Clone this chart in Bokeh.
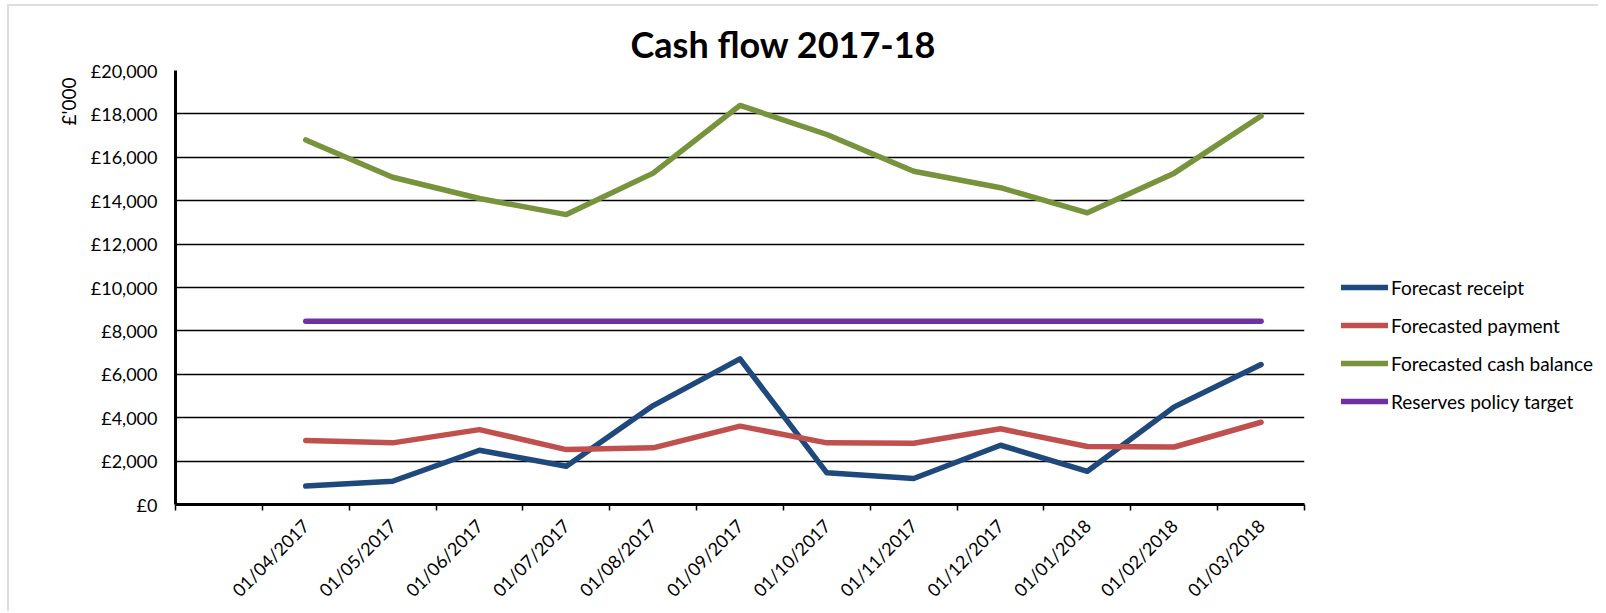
import math
from bokeh.plotting import figure
from bokeh.layouts import row
from bokeh.models import Range1d, FixedTicker, Legend, LegendItem, Title
from bokeh.embed import file_html
from bokeh.resources import INLINE

# ---- data ----
categories = ["", "01/04/2017", "01/05/2017", "01/06/2017", "01/07/2017", "01/08/2017",
              "01/09/2017", "01/10/2017", "01/11/2017", "01/12/2017", "01/01/2018",
              "01/02/2018", "01/03/2018"]
months = categories[1:]
forecast_receipt = [850, 1070, 2500, 1760, 4560, 6710, 1460, 1200, 2730, 1530, 4500, 6450]
forecasted_payment = [2950, 2840, 3450, 2530, 2610, 3610, 2840, 2820, 3490, 2670, 2650, 3790]
forecasted_balance = [16800, 15080, 14100, 13360, 15270, 18390, 17050, 15360, 14600, 13440, 15270, 17900]
reserves_target = [8450, 8450, 8450, 8450, 8450, 8450, 8450, 8450, 8450, 8450, 8450, 8450]
series_names = ["Forecast receipt", "Forecasted payment", "Forecasted cash balance", "Reserves policy target"]
y_ticks = [0, 2000, 4000, 6000, 8000, 10000, 12000, 14000, 16000, 18000, 20000]
y_tick_labels = ["£0", "£2,000", "£4,000", "£6,000", "£8,000", "£10,000", "£12,000",
                 "£14,000", "£16,000", "£18,000", "£20,000"]
title_text = "Cash flow 2017-18"
y_title = "£'000"

FONT = "Lato"
colors = ["#1F497D", "#C0504D", "#77933C", "#7030A0"]
LW = 5.5
series = [forecast_receipt, forecasted_payment, forecasted_balance, reserves_target]

# category centres on a numeric axis (slot i spans [i, i+1])
xs = [categories.index(m) + 0.5 for m in months]
slot_edges = list(range(len(categories) + 1))
slot_centres = [i + 0.5 for i in range(len(categories))]

H = 605
p = figure(width=1305, height=H, output_backend="svg", toolbar_location=None,
           x_range=Range1d(0, len(categories)), y_range=Range1d(y_ticks[0], y_ticks[-1]),
           min_border_left=166, min_border_right=10, min_border_top=64, min_border_bottom=106)
p.background_fill_color = "white"
p.border_fill_color = "white"
p.outline_line_color = None

# title
p.title.text = title_text
p.title.align = "left"
p.title.offset = 455
p.title.text_font = FONT
p.title.text_font_style = "bold"
p.title.text_font_size = "36px"
p.title.text_color = "black"
p.title.standoff = 10

# y axis
p.yaxis.ticker = FixedTicker(ticks=y_ticks)
p.yaxis.major_label_overrides = {t: l for t, l in zip(y_ticks, y_tick_labels)}
p.yaxis.major_tick_out = 0
p.yaxis.major_tick_in = 0
p.yaxis.minor_tick_out = 0
p.yaxis.minor_tick_in = 0
p.yaxis.axis_line_width = 3
p.yaxis.axis_line_color = "black"
p.yaxis.major_label_standoff = 18
p.yaxis.major_label_text_font = FONT
p.yaxis.major_label_text_font_size = "18px"
p.yaxis.major_label_text_color = "black"

# y axis title, at the top of the axis
p.add_layout(Title(text=y_title, align="right", offset=7, standoff=15,
                   text_font=FONT, text_font_size="19px", text_font_style="normal",
                   text_color="black"), "left")

# x axis
p.xaxis.ticker = FixedTicker(ticks=slot_centres, minor_ticks=slot_edges)
p.xaxis.major_label_overrides = {c: l for c, l in zip(slot_centres, categories)}
p.xaxis.major_label_orientation = math.pi / 4
p.xaxis.major_tick_out = 0
p.xaxis.major_tick_in = 0
p.xaxis.minor_tick_out = 6
p.xaxis.minor_tick_in = 0
p.xaxis.minor_tick_line_color = "black"
p.xaxis.minor_tick_line_width = 1.5
p.xaxis.axis_line_width = 3
p.xaxis.axis_line_color = "black"
p.xaxis.major_label_standoff = 12
p.xaxis.major_label_text_font = FONT
p.xaxis.major_label_text_font_size = "18px"
p.xaxis.major_label_text_color = "black"

p.xgrid.grid_line_color = None
p.ygrid.ticker = FixedTicker(ticks=y_ticks)
p.ygrid.grid_line_color = "black"
p.ygrid.grid_line_width = 1.5

for vals, col in zip(series, colors):
    p.line(xs, vals, line_color=col, line_width=LW, line_join="round", line_cap="round")

# ---- legend panel (separate figure on the right, so nothing is clipped) ----
q = figure(width=284, height=H, output_backend="svg", toolbar_location=None,
           x_range=Range1d(0, 1), y_range=Range1d(0, 1),
           x_axis_location=None, y_axis_location=None,
           min_border_left=0, min_border_right=0, min_border_top=0, min_border_bottom=0)
q.grid.visible = False
q.outline_line_color = None
q.background_fill_color = "white"
q.border_fill_color = "white"

# legend keys: same series, lying outside this panel's visible range (only the key swatches show)
keys = [q.line(xs, vals, line_color=col, line_width=LW, line_cap="round")
        for vals, col in zip(series, colors)]
legend = Legend(items=[LegendItem(label=n, renderers=[r]) for n, r in zip(series_names, keys)],
                location=(27, 84), orientation="vertical")
legend.border_line_color = None
legend.background_fill_alpha = 0
legend.padding = 0
legend.margin = 0
legend.spacing = 0
legend.glyph_width = 47
legend.glyph_height = 38
legend.label_height = 38
legend.label_standoff = 3
legend.label_text_font = FONT
legend.label_text_font_size = "19px"
legend.label_text_color = "black"
q.add_layout(legend)

layout = row(p, q, spacing=0)
# thin light-grey chart-area border along the top and left edges
layout.styles = {"margin-left": "7px", "margin-top": "4px",
                 "border-top": "2px solid #dddddd", "border-left": "2px solid #dddddd"}
open("out.html", "w").write(file_html(layout, INLINE))
